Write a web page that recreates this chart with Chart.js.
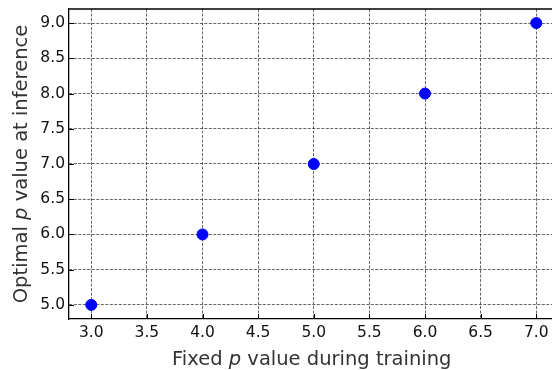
<!DOCTYPE html>
<html>
<head>
<meta charset="utf-8">
<script src="https://cdn.jsdelivr.net/npm/chart.js@4"></script>
<style>
  html, body { margin: 0; padding: 0; background: #fff; overflow: hidden; }
  #wrap { width: 552px; height: 370px; overflow: hidden; }
</style>
</head>
<body>
<div id="wrap"><canvas id="pChart" width="565" height="370"></canvas></div>
<script>
const trainP = [3.0, 4.0, 5.0, 6.0, 7.0];
const optimalP = [5.0, 6.0, 7.0, 8.0, 9.0];
const xTicks = [3.0, 3.5, 4.0, 4.5, 5.0, 5.5, 6.0, 6.5, 7.0];
const yTicks = [5.0, 5.5, 6.0, 6.5, 7.0, 7.5, 8.0, 8.5, 9.0];

const FONT = "'DejaVu Sans', sans-serif";
const ctx = document.getElementById('pChart').getContext('2d');

// draws "... p ..." with an italic p, centred on (x, y)
const drawMixed = (c, parts, x, y, size) => {
    let total = 0;
    parts.forEach(p => {
        c.font = `${p.it ? 'italic ' : ''}${size}px ${FONT}`;
        p.w = c.measureText(p.t).width;
        total += p.w;
    });
    let cx = x - total / 2;
    parts.forEach(p => {
        c.font = `${p.it ? 'italic ' : ''}${size}px ${FONT}`;
        c.fillText(p.t, cx, y);
        cx += p.w;
    });
};

// frame top line, inward tick marks and the two axis titles
const axisTitles = {
    id: 'axisTitles',
    afterDatasetsDraw(chart) {
        const c = chart.ctx;
        const a = chart.chartArea;
        const sx = chart.scales.x, sy = chart.scales.y;
        c.save();
        c.strokeStyle = '#000';
        c.lineWidth = 1.3;
        c.beginPath();
        c.moveTo(a.left, a.top);
        c.lineTo(a.right, a.top);
        c.stroke();

        c.lineWidth = 1;
        c.beginPath();
        xTicks.forEach(v => {
            const px = Math.round(sx.getPixelForValue(v)) + 0.5;
            c.moveTo(px, a.bottom);
            c.lineTo(px, a.bottom - 5);
        });
        yTicks.forEach(v => {
            const py = Math.round(sy.getPixelForValue(v)) + 0.5;
            c.moveTo(a.left, py);
            c.lineTo(a.left + 5, py);
        });
        c.stroke();
        c.restore();
    },
    afterDraw(chart) {
        const c = chart.ctx;
        const a = chart.chartArea;
        c.save();
        c.fillStyle = '#333';
        c.textBaseline = 'alphabetic';
        drawMixed(c, [{ t: 'Fixed ' }, { t: 'p', it: true }, { t: ' value during training' }],
            (a.left + a.right) / 2 - 2, 365, 19.5);

        c.translate(27, (a.top + a.bottom) / 2);
        c.rotate(-Math.PI / 2);
        drawMixed(c, [{ t: 'Optimal ' }, { t: 'p', it: true }, { t: ' value at inference' }],
            0, 0, 19.5);
        c.restore();
    }
};

const gridStyle = { color: 'rgba(0,0,0,0.75)', lineWidth: 0.8, drawTicks: false };
const borderStyle = { color: '#000', width: 1.3, dash: [3, 1.5] };
const tickFont = { family: FONT, size: 15.5 };

new Chart(ctx, {
    type: 'scatter',
    data: {
        datasets: [{
            data: trainP.map((x, i) => ({ x: x, y: optimalP[i] })),
            backgroundColor: '#0000ff',
            borderColor: '#0000ff',
            pointRadius: 5.5,
            pointHoverRadius: 5.5
        }]
    },
    options: {
        responsive: false,
        animation: false,
        events: [],
        layout: { padding: { top: 9, right: 2, left: 0, bottom: 0 } },
        plugins: { legend: { display: false }, tooltip: { enabled: false } },
        scales: {
            x: {
                type: 'linear',
                min: 2.8,
                max: 7.2,
                grid: gridStyle,
                border: borderStyle,
                afterBuildTicks: s => { s.ticks = xTicks.map(v => ({ value: v })); },
                afterFit: s => { s.height = 51; s.paddingLeft = 0; s.paddingRight = 0; },
                ticks: {
                    font: tickFont,
                    color: '#111',
                    padding: 5,
                    maxRotation: 0,
                    callback: v => v.toFixed(1)
                }
            },
            y: {
                type: 'linear',
                min: 4.8,
                max: 9.2,
                grid: gridStyle,
                border: borderStyle,
                afterBuildTicks: s => { s.ticks = yTicks.map(v => ({ value: v })); },
                afterFit: s => { s.width = 69; s.paddingTop = 0; s.paddingBottom = 0; },
                ticks: {
                    font: tickFont,
                    color: '#111',
                    padding: 4,
                    callback: v => v.toFixed(1)
                }
            }
        }
    },
    plugins: [axisTitles]
});
</script>
</body>
</html>
